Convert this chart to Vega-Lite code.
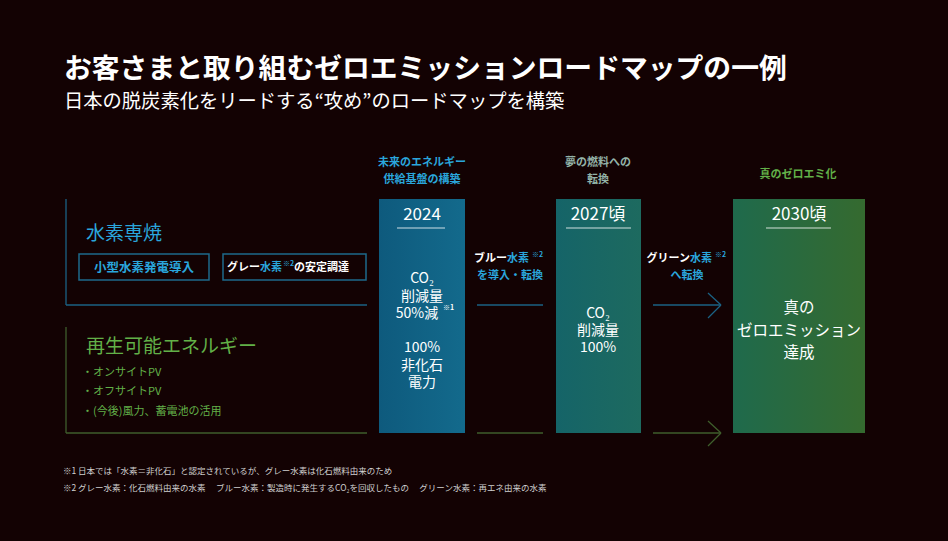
{
  "$schema": "https://vega.github.io/schema/vega-lite/v6.json",
  "width": 948,
  "height": 541,
  "padding": 0,
  "autosize": "none",
  "background": "#130203",
  "config": {"view": {"stroke": null}, "text": {"font": "Noto Sans CJK JP", "baseline": "middle"}},
  "datasets": {
    "stages": [
      {"stage": "2024", "x0": 379, "x1": 465, "y0": 199, "y1": 433},
      {"stage": "2027", "x0": 556, "x1": 641, "y0": 199, "y1": 433},
      {"stage": "2030", "x0": 733, "x1": 865, "y0": 199, "y1": 433}
    ],
    "boxes": [
      {"label": "小型水素発電導入", "x0": 79, "x1": 209, "y0": 254, "y1": 280},
      {"label": "グレー水素の安定調達", "x0": 223, "x1": 366, "y0": 254, "y1": 280}
    ],
    "lines": [
      {"kind": "hydro", "x": 66, "x2": 66, "y": 199, "y2": 305},
      {"kind": "hydro", "x": 66, "x2": 367, "y": 305, "y2": 305},
      {"kind": "renew", "x": 66, "x2": 66, "y": 327, "y2": 433},
      {"kind": "renew", "x": 66, "x2": 367, "y": 433, "y2": 433},
      {"kind": "hydro", "x": 477, "x2": 543, "y": 305, "y2": 305},
      {"kind": "hydro", "x": 653, "x2": 720, "y": 305, "y2": 305},
      {"kind": "hydro", "x": 708, "x2": 721, "y": 293, "y2": 305},
      {"kind": "hydro", "x": 721, "x2": 708, "y": 305, "y2": 318},
      {"kind": "renew", "x": 477, "x2": 543, "y": 433, "y2": 433},
      {"kind": "renew", "x": 653, "x2": 720, "y": 433, "y2": 433},
      {"kind": "renew", "x": 708, "x2": 721, "y": 421, "y2": 433},
      {"kind": "renew", "x": 721, "x2": 708, "y": 433, "y2": 446}
    ],
    "underlines": [
      {"stage": "2024", "x": 397, "x2": 445, "y": 228},
      {"stage": "2027", "x": 566, "x2": 631, "y": 228},
      {"stage": "2030", "x": 766, "x2": 831, "y": 228}
    ],
    "texts": [
      {"style": "title", "tone": "white", "text": "お客さまと取り組むゼロエミッションロードマップの一例", "x": 64, "y": 70},
      {"style": "subtitle", "tone": "white", "text": "日本の脱炭素化をリードする“攻め”のロードマップを構築", "x": 64, "y": 102},
      {"style": "section", "tone": "cyan", "text": "水素専焼", "x": 86, "y": 234},
      {"style": "section", "tone": "green", "text": "再生可能エネルギー", "x": 86, "y": 347},
      {"style": "item", "tone": "green", "text": "・オンサイトPV", "x": 82, "y": 373},
      {"style": "item", "tone": "green", "text": "・オフサイトPV", "x": 82, "y": 392},
      {"style": "item", "tone": "green", "text": "・(今後)風力、蓄電池の活用", "x": 82, "y": 412},
      {"style": "spaced", "tone": "cyan", "text": "小型水素発電導入", "x": 144, "y": 268},
      {"style": "smallR", "tone": "white", "text": "グレー", "x": 260, "y": 268},
      {"style": "smallL", "tone": "cyan", "text": "水素", "x": 260, "y": 268},
      {"style": "sup", "tone": "cyan", "text": "※2", "x": 283, "y": 264},
      {"style": "smallL", "tone": "white", "text": "の安定調達", "x": 294, "y": 268},
      {"style": "smallC", "tone": "cyan", "text": "未来のエネルギー", "x": 422, "y": 163},
      {"style": "smallC", "tone": "cyan", "text": "供給基盤の構築", "x": 422, "y": 180},
      {"style": "smallC", "tone": "teal", "text": "夢の燃料への", "x": 598, "y": 163},
      {"style": "smallC", "tone": "teal", "text": "転換", "x": 598, "y": 180},
      {"style": "smallC", "tone": "green", "text": "真のゼロエミ化", "x": 798, "y": 175},
      {"style": "year", "tone": "white", "text": "2024", "x": 422, "y": 215},
      {"style": "year", "tone": "white", "text": "2027頃", "x": 598, "y": 215},
      {"style": "year", "tone": "white", "text": "2030頃", "x": 799, "y": 215},
      {"style": "body", "tone": "white", "text": "CO₂", "x": 422, "y": 279},
      {"style": "body", "tone": "white", "text": "削減量", "x": 422, "y": 297},
      {"style": "body", "tone": "white", "text": "50%減", "x": 417, "y": 314},
      {"style": "sup", "tone": "white", "text": "※1", "x": 443, "y": 308},
      {"style": "body", "tone": "white", "text": "100%", "x": 422, "y": 348},
      {"style": "body", "tone": "white", "text": "非化石", "x": 422, "y": 366},
      {"style": "body", "tone": "white", "text": "電力", "x": 422, "y": 383},
      {"style": "body", "tone": "white", "text": "CO₂", "x": 598, "y": 314},
      {"style": "body", "tone": "white", "text": "削減量", "x": 598, "y": 331},
      {"style": "body", "tone": "white", "text": "100%", "x": 598, "y": 348},
      {"style": "big", "tone": "white", "text": "真の", "x": 799, "y": 308},
      {"style": "big", "tone": "white", "text": "ゼロエミッション", "x": 799, "y": 331},
      {"style": "big", "tone": "white", "text": "達成", "x": 799, "y": 353},
      {"style": "smallR", "tone": "white", "text": "ブルー", "x": 507, "y": 259},
      {"style": "smallL", "tone": "cyan", "text": "水素", "x": 507, "y": 259},
      {"style": "sup", "tone": "cyan", "text": "※2", "x": 532, "y": 255},
      {"style": "smallC", "tone": "cyan", "text": "を導入・転換", "x": 510, "y": 276},
      {"style": "smallR", "tone": "white", "text": "グリーン", "x": 690, "y": 259},
      {"style": "smallL", "tone": "cyan", "text": "水素", "x": 690, "y": 259},
      {"style": "sup", "tone": "cyan", "text": "※2", "x": 715, "y": 255},
      {"style": "smallC", "tone": "cyan", "text": "へ転換", "x": 687, "y": 276},
      {"style": "note", "tone": "note", "text": "※1  日本では「水素＝非化石」と認定されているが、グレー水素は化石燃料由来のため", "x": 63, "y": 471},
      {"style": "note", "tone": "note", "text": "※2  グレー水素：化石燃料由来の水素　 ブルー水素：製造時に発生するCO₂を回収したもの　 グリーン水素：再エネ由来の水素", "x": 63, "y": 488}
    ]
  },
  "encoding": {
    "x": {"type": "quantitative", "scale": {"domain": [0, 948]}, "axis": null},
    "y": {"type": "quantitative", "scale": {"domain": [0, 541], "reverse": true}, "axis": null}
  },
  "layer": [
    {
      "data": {"name": "stages"},
      "transform": [{"filter": "datum.stage === '2024'"}],
      "mark": {"type": "rect", "fill": {"gradient": "linear", "x1": 0, "y1": 0, "x2": 1, "y2": 0, "stops": [{"offset": 0, "color": "#0e5a7d"}, {"offset": 1, "color": "#136a8c"}]}},
      "encoding": {"x": {"field": "x0", "type": "quantitative"}, "x2": {"field": "x1"}, "y": {"field": "y0", "type": "quantitative"}, "y2": {"field": "y1"}}
    },
    {
      "data": {"name": "stages"},
      "transform": [{"filter": "datum.stage === '2027'"}],
      "mark": {"type": "rect", "fill": {"gradient": "linear", "x1": 0, "y1": 0, "x2": 1, "y2": 0, "stops": [{"offset": 0, "color": "#156468"}, {"offset": 1, "color": "#1d6a5f"}]}},
      "encoding": {"x": {"field": "x0", "type": "quantitative"}, "x2": {"field": "x1"}, "y": {"field": "y0", "type": "quantitative"}, "y2": {"field": "y1"}}
    },
    {
      "data": {"name": "stages"},
      "transform": [{"filter": "datum.stage === '2030'"}],
      "mark": {"type": "rect", "fill": {"gradient": "linear", "x1": 0, "y1": 0, "x2": 1, "y2": 0, "stops": [{"offset": 0, "color": "#1f6a4c"}, {"offset": 1, "color": "#356a2f"}]}},
      "encoding": {"x": {"field": "x0", "type": "quantitative"}, "x2": {"field": "x1"}, "y": {"field": "y0", "type": "quantitative"}, "y2": {"field": "y1"}}
    },
    {
      "data": {"name": "boxes"},
      "mark": {"type": "rect", "fill": null, "fillOpacity": 0, "stroke": "#1e6a8c", "strokeWidth": 1.5},
      "encoding": {"x": {"field": "x0", "type": "quantitative"}, "x2": {"field": "x1"}, "y": {"field": "y0", "type": "quantitative"}, "y2": {"field": "y1"}}
    },
    {
      "data": {"name": "lines"},
      "mark": {"type": "rule", "strokeWidth": 1.3},
      "encoding": {
        "x": {"field": "x", "type": "quantitative"}, "x2": {"field": "x2"},
        "y": {"field": "y", "type": "quantitative"}, "y2": {"field": "y2"},
        "stroke": {"field": "kind", "type": "nominal", "scale": {"domain": ["hydro", "renew"], "range": ["#1b6284", "#3f5e2c"]}, "legend": null}
      }
    },
    {
      "data": {"name": "underlines"},
      "mark": {"type": "rule", "strokeWidth": 2, "color": "#ffffff", "opacity": 0.4},
      "encoding": {"x": {"field": "x", "type": "quantitative"}, "x2": {"field": "x2"}, "y": {"field": "y", "type": "quantitative"}}
    },
    {
      "data": {"name": "texts"},
      "layer": [
        {"transform": [{"filter": "datum.style === 'title'"}], "mark": {"type": "text", "align": "left", "fontSize": 27.8, "fontWeight": "bold"}},
        {"transform": [{"filter": "datum.style === 'subtitle'"}], "mark": {"type": "text", "align": "left", "fontSize": 19.3}},
        {"transform": [{"filter": "datum.style === 'section'"}], "mark": {"type": "text", "align": "left", "fontSize": 19}},
        {"transform": [{"filter": "datum.style === 'item'"}], "mark": {"type": "text", "align": "left", "fontSize": 11}},
        {"transform": [{"filter": "datum.style === 'spaced'"}], "mark": {"type": "text", "align": "center", "fontSize": 12.5, "fontWeight": "bold"}},
        {"transform": [{"filter": "datum.style === 'smallC'"}], "mark": {"type": "text", "align": "center", "fontSize": 11, "fontWeight": "bold"}},
        {"transform": [{"filter": "datum.style === 'smallL'"}], "mark": {"type": "text", "align": "left", "fontSize": 11, "fontWeight": "bold"}},
        {"transform": [{"filter": "datum.style === 'smallR'"}], "mark": {"type": "text", "align": "right", "fontSize": 11, "fontWeight": "bold"}},
        {"transform": [{"filter": "datum.style === 'sup'"}], "mark": {"type": "text", "align": "left", "fontSize": 7, "fontWeight": "bold"}},
        {"transform": [{"filter": "datum.style === 'year'"}], "mark": {"type": "text", "align": "center", "fontSize": 17}},
        {"transform": [{"filter": "datum.style === 'body'"}], "mark": {"type": "text", "align": "center", "fontSize": 14}},
        {"transform": [{"filter": "datum.style === 'big'"}], "mark": {"type": "text", "align": "center", "fontSize": 15.5}},
        {"transform": [{"filter": "datum.style === 'note'"}], "mark": {"type": "text", "align": "left", "fontSize": 8.5}}
      ],
      "encoding": {
        "x": {"field": "x", "type": "quantitative"},
        "y": {"field": "y", "type": "quantitative"},
        "text": {"field": "text", "type": "nominal"},
        "color": {"field": "tone", "type": "nominal", "scale": {"domain": ["white", "cyan", "green", "teal", "note"], "range": ["#ffffff", "#2aa6dc", "#62b048", "#93b3a8", "#d0d0d0"]}, "legend": null}
      }
    }
  ]
}
